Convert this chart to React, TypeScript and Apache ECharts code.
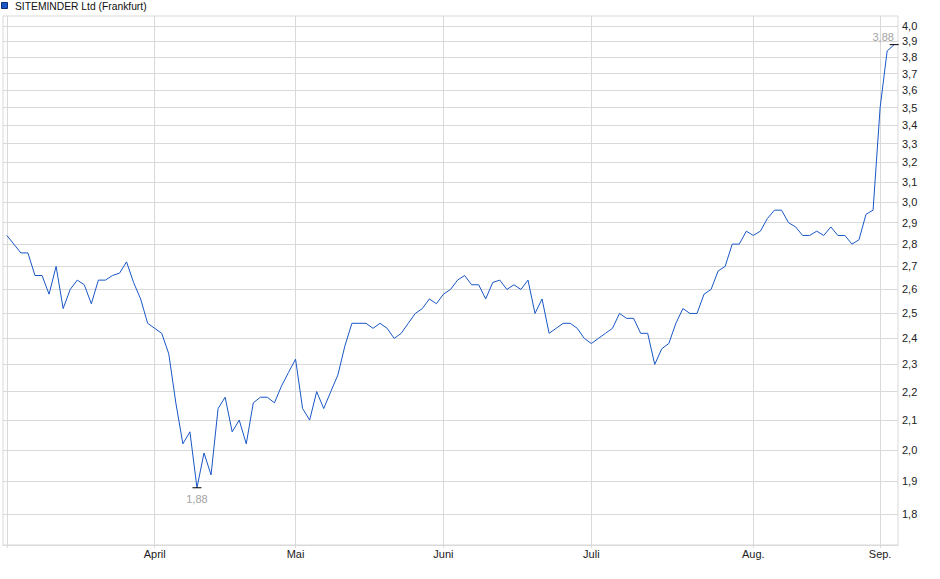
import React, { useEffect, useRef } from "react";
import * as echarts from "echarts";

const seriesName = "SITEMINDER Ltd (Frankfurt)";

// Closing prices, one per trading day (index 0 = first trading day of March)
const prices: number[] = [
  2.84, 2.80, 2.76, 2.76, 2.66, 2.66, 2.58, 2.70, 2.52, 2.60,
  2.64, 2.62, 2.54, 2.64, 2.64, 2.66, 2.67, 2.72, 2.63, 2.56,
  2.46, 2.44, 2.42, 2.34, 2.16, 2.02, 2.06, 1.88, 1.99, 1.92,
  2.14, 2.18, 2.06, 2.10, 2.02, 2.16, 2.18, 2.18, 2.16, 2.22,
  2.27, 2.32, 2.14, 2.10, 2.20, 2.14, 2.20, 2.26, 2.37, 2.46,
  2.46, 2.46, 2.44, 2.46, 2.44, 2.40, 2.42, 2.46, 2.50, 2.52,
  2.56, 2.54, 2.58, 2.60, 2.64, 2.66, 2.62, 2.62, 2.56, 2.63,
  2.64, 2.60, 2.62, 2.60, 2.64, 2.50, 2.56, 2.42, 2.44, 2.46,
  2.46, 2.44, 2.40, 2.38, 2.40, 2.42, 2.44, 2.50, 2.48, 2.48,
  2.42, 2.42, 2.30, 2.36, 2.38, 2.46, 2.52, 2.50, 2.50, 2.58,
  2.60, 2.68, 2.70, 2.80, 2.80, 2.86, 2.84, 2.86, 2.92, 2.96,
  2.96, 2.90, 2.88, 2.84, 2.84, 2.86, 2.84, 2.88, 2.84, 2.84,
  2.80, 2.82, 2.94, 2.96, 3.50, 3.84, 3.88,
];

// Index of the first trading day of each month, and its label
const monthStartIndex: number[] = [0, 21, 41, 62, 83, 106, 124];
const monthLabels: string[] = ["", "April", "Mai", "Juni", "Juli", "Aug.", "Sep."];

// Right axis tick values
const yTicks: number[] = [
  1.8, 1.9, 2.0, 2.1, 2.2, 2.3, 2.4, 2.5, 2.6, 2.7, 2.8, 2.9,
  3.0, 3.1, 3.2, 3.3, 3.4, 3.5, 3.6, 3.7, 3.8, 3.9, 4.0,
];

const FONT = "'Liberation Sans', Arial, sans-serif";
const GRID_COLOR = "#d9d9d9";
const LINE_COLOR = "#1a57c6";

const comma = (v: number, d: number) => v.toFixed(d).replace(".", ",");

export default function App() {
  const ref = useRef<HTMLDivElement>(null);

  useEffect(() => {
    if (!ref.current) return;
    const chart = echarts.init(ref.current, undefined, { renderer: "svg" });
    const data = prices.map((v, i) => [i, v]);

    chart.setOption({
      animation: false,
      backgroundColor: "#ffffff",
      textStyle: { fontFamily: FONT },
      grid: {
        left: 3,
        right: 42,
        top: 16,
        bottom: 34,
        show: true,
        borderColor: GRID_COLOR,
        borderWidth: 1,
        backgroundColor: "transparent",
      },
      graphic: [
        {
          type: "rect",
          shape: { x: 1.5, y: 2.5, width: 6, height: 6 },
          style: { fill: LINE_COLOR, stroke: "#0c2d73", lineWidth: 1 },
        },
        {
          type: "text",
          x: 15,
          y: 6,
          style: {
            text: seriesName,
            fill: "#111",
            font: `10.3px ${FONT}`,
            textVerticalAlign: "middle",
          },
        },
      ],
      xAxis: {
        type: "value",
        min: -0.54,
        max: prices.length - 1 + 0.54,
        axisLine: { show: true, lineStyle: { color: GRID_COLOR } },
        axisTick: {
          show: true,
          length: 3,
          customValues: monthStartIndex,
          lineStyle: { color: GRID_COLOR },
        },
        splitLine: { show: true, lineStyle: { color: GRID_COLOR, width: 1 } },
        axisLabel: {
          customValues: monthStartIndex,
          margin: 3,
          color: "#222",
          fontSize: 11,
          fontFamily: FONT,
          formatter: (v: number) => {
            const k = monthStartIndex.indexOf(Math.round(v));
            return k >= 0 ? monthLabels[k] : "";
          },
        },
      },
      yAxis: {
        type: "log",
        logBase: 10,
        position: "right",
        min: 1.712,
        max: 4.066,
        axisLine: { show: false },
        axisTick: {
          show: true,
          length: 3,
          customValues: yTicks,
          lineStyle: { color: GRID_COLOR },
        },
        splitLine: { show: true, lineStyle: { color: GRID_COLOR, width: 1 } },
        axisLabel: {
          customValues: yTicks,
          margin: 4,
          color: "#222",
          fontSize: 11,
          fontFamily: FONT,
          formatter: (v: number) => comma(v, 1),
        },
      },
      series: [
        {
          name: seriesName,
          type: "line",
          data,
          symbol: "none",
          lineStyle: { color: LINE_COLOR, width: 1 },
          itemStyle: { color: LINE_COLOR },
          markPoint: {
            symbol: "rect",
            symbolSize: [9, 1],
            itemStyle: { color: "#000" },
            label: {
              color: "#a3a3a3",
              fontSize: 11,
              fontFamily: FONT,
              formatter: (p: any) => comma(Number(p.value), 2),
            },
            data: [
              {
                type: "min",
                valueDim: "y",
                label: { position: "bottom", distance: 5 },
              },
              {
                type: "max",
                valueDim: "y",
                label: { position: "top", distance: 2, offset: [-11, 0] },
              },
            ],
          },
        },
      ],
    });

    return () => chart.dispose();
  }, []);

  return (
    <div
      ref={ref}
      style={{ position: "fixed", left: 0, top: 0, width: 940, height: 579 }}
    />
  );
}
